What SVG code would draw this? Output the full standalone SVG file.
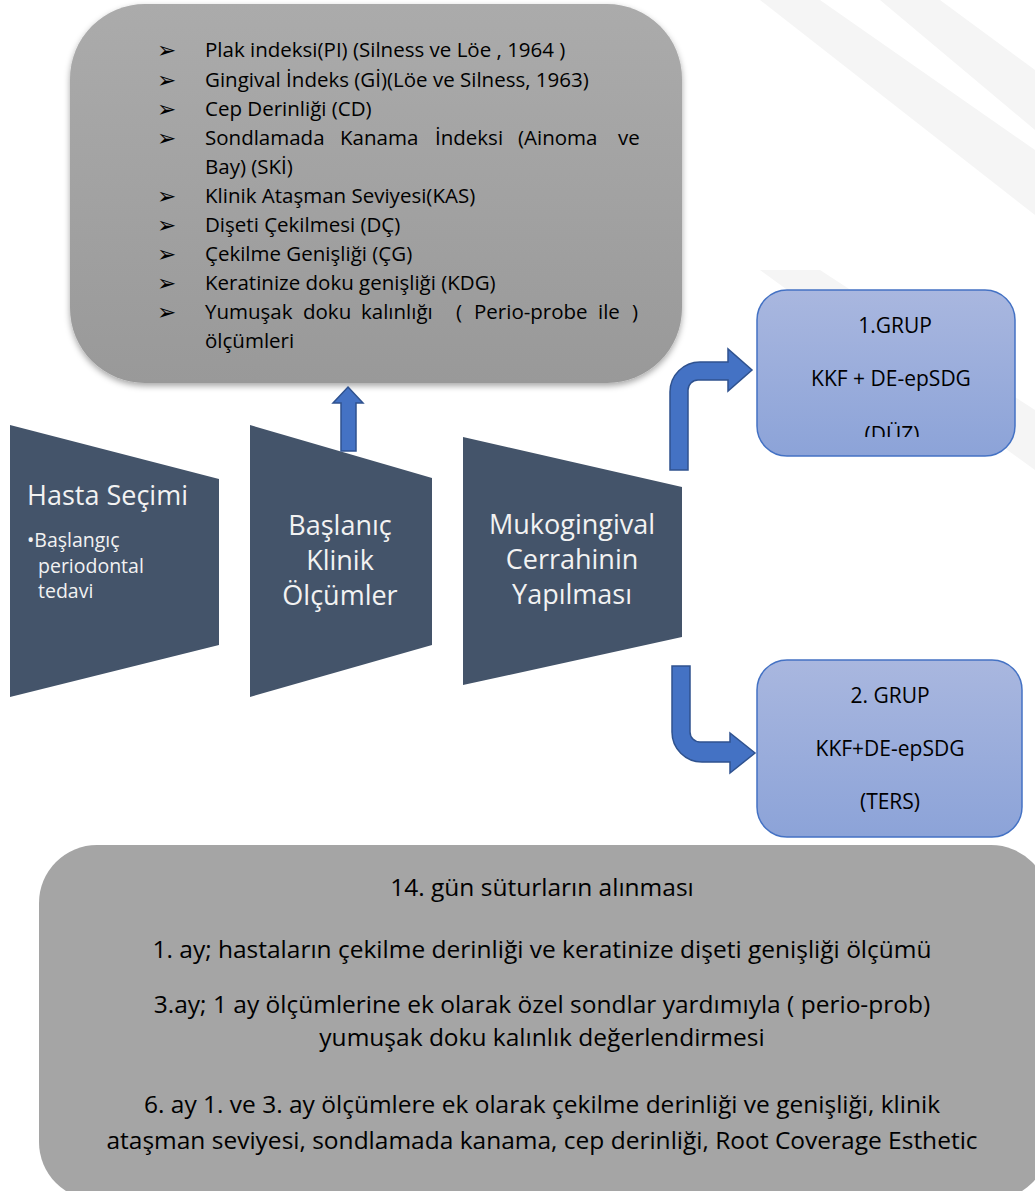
<svg xmlns="http://www.w3.org/2000/svg" width="1035" height="1191" viewBox="0 0 1035 1191">
<defs>
<linearGradient id="gGray" x1="0" y1="0" x2="0" y2="1"><stop offset="0" stop-color="#ababab"/><stop offset="1" stop-color="#999999"/></linearGradient>
<linearGradient id="gBlue" x1="0" y1="0" x2="0" y2="1"><stop offset="0" stop-color="#a9b7df"/><stop offset="1" stop-color="#8ca3d8"/></linearGradient>
<filter id="sh" x="-5%" y="-5%" width="110%" height="115%"><feDropShadow dx="0" dy="3" stdDeviation="3" flood-color="#000" flood-opacity="0.35"/></filter>
<clipPath id="clip1"><rect x="757" y="290" width="258" height="147"/></clipPath>
<style>
.lst{font-family:"Open Sans","Liberation Sans",sans-serif;font-size:20.5px;fill:#000}
.bul{font-family:"DejaVu Sans",sans-serif;font-size:23px;fill:#000}
.trap{fill:#44546a}
.tt{font-family:"Open Sans","Liberation Sans",sans-serif;font-size:27px;fill:#f2f2f2}
.ts{font-family:"Open Sans","Liberation Sans",sans-serif;font-size:19.5px;fill:#f2f2f2}
.grp{fill:url(#gBlue);stroke:#4472c4;stroke-width:1.5}
.gt{font-family:"Open Sans","Liberation Sans",sans-serif;font-size:21px;fill:#000;text-anchor:middle}
.bt{font-family:"Open Sans","Liberation Sans",sans-serif;font-size:24.5px;fill:#000;text-anchor:middle}
.arr{fill:#4472c4;stroke:#2f528f;stroke-width:1.5}
</style>
</defs>
<rect width="1035" height="1191" fill="#ffffff"/>
<g id="watermark" fill="#f5f5f5">
<polygon points="760,0 820,0 1035,150 1035,215"/>
<polygon points="880,0 940,0 1035,70 1035,130"/>
<polygon points="760,270 820,270 1035,410 1035,470"/>
</g>
<g id="measures">
<rect x="70" y="4" width="612" height="379" rx="75" fill="url(#gGray)" filter="url(#sh)"/>
<g class="bul">
<text x="157" y="58">➢</text><text x="157" y="88">➢</text><text x="157" y="117">➢</text><text x="157" y="146">➢</text>
<text x="157" y="204">➢</text><text x="157" y="233">➢</text><text x="157" y="262">➢</text><text x="157" y="291">➢</text><text x="157" y="320">➢</text>
</g>
<g class="lst">
<text x="205" y="57">Plak indeksi(PI) (Silness ve Löe , 1964 )</text>
<text x="205" y="87">Gingival İndeks (Gİ)(Löe ve Silness, 1963)</text>
<text x="205" y="116">Cep Derinliği (CD)</text>
<text y="145"><tspan x="205">Sondlamada</tspan><tspan x="340">Kanama</tspan><tspan x="435">İndeksi</tspan><tspan x="518">(Ainoma</tspan><tspan x="618">ve</tspan></text>
<text x="205" y="174">Bay) (SKİ)</text>
<text x="205" y="203">Klinik Ataşman Seviyesi(KAS)</text>
<text x="205" y="232">Dişeti Çekilmesi (DÇ)</text>
<text x="205" y="261">Çekilme Genişliği (ÇG)</text>
<text x="205" y="290">Keratinize doku genişliği (KDG)</text>
<text y="319"><tspan x="205">Yumuşak</tspan><tspan x="303">doku</tspan><tspan x="361">kalınlığı</tspan><tspan x="456">(</tspan><tspan x="474">Perio-probe</tspan><tspan x="598">ile</tspan><tspan x="632">)</tspan></text>
<text x="205" y="348">ölçümleri</text>
</g>
</g>
<g id="hasta">
<polygon class="trap" points="10,425 219,479 219,645 10,697"/>
<text class="tt" x="27" y="505">Hasta Seçimi</text>
<text class="ts" x="27" y="547">•Başlangıç</text>
<text class="ts" x="38" y="573">periodontal</text>
<text class="ts" x="38" y="598">tedavi</text>
</g>
<g id="baslangic">
<polygon class="trap" points="250,425 432,478 432,645 250,697"/>
<text class="tt" x="340" y="535" text-anchor="middle">Başlanıç</text>
<text class="tt" x="340" y="570" text-anchor="middle">Klinik</text>
<text class="tt" x="340" y="605" text-anchor="middle">Ölçümler</text>
</g>
<g id="cerrahi">
<polygon class="trap" points="463,437 682,487 682,637 463,685"/>
<text class="tt" x="572" y="534" text-anchor="middle">Mukogingival</text>
<text class="tt" x="572" y="569" text-anchor="middle">Cerrahinin</text>
<text class="tt" x="572" y="604" text-anchor="middle">Yapılması</text>
</g>
<g id="grup1">
<rect class="grp" x="757" y="290" width="258" height="166" rx="30"/>
<g clip-path="url(#clip1)">
<text class="gt" x="895" y="333">1.GRUP</text>
<text class="gt" x="891" y="386">KKF + DE-epSDG</text>
<text class="gt" x="892" y="442">(DÜZ)</text>
</g>
</g>
<g id="grup2">
<rect class="grp" x="757" y="660" width="265" height="177" rx="30"/>
<text class="gt" x="890" y="703">2. GRUP</text>
<text class="gt" x="890" y="756">KKF+DE-epSDG</text>
<text class="gt" x="890" y="809">(TERS)</text>
</g>
<g id="connectors">
<path class="arr" d="M348,387 L363,403 H356 V451 H341 V403 H333 Z"/>
<path class="arr" d="M670,470 V392 A30,30 0 0 1 700,362 H728 V349 L752,370 L728,391 V380 H698 A10,10 0 0 0 688,390 V470 Z"/>
<path class="arr" d="M672,666 H690 V732 A10,10 0 0 0 700,742 H730 V733 L755,753 L730,773 V762 H702 A30,30 0 0 1 672,732 Z"/>
</g>
<g id="followup">
<rect x="39" y="845" width="1010" height="355" rx="58" fill="#a5a5a5"/>
<text class="bt" x="542" y="896">14. gün süturların alınması</text>
<text class="bt" x="542" y="958">1. ay; hastaların çekilme derinliği ve keratinize dişeti genişliği ölçümü</text>
<text class="bt" x="542" y="1013">3.ay; 1 ay ölçümlerine ek olarak özel sondlar yardımıyla ( perio-prob)</text>
<text class="bt" x="542" y="1046">yumuşak doku kalınlık değerlendirmesi</text>
<text class="bt" x="542" y="1113">6. ay 1. ve 3. ay ölçümlere ek olarak çekilme derinliği ve genişliği, klinik</text>
<text class="bt" x="542" y="1149">ataşman seviyesi, sondlamada kanama, cep derinliği,  Root Coverage Esthetic</text>
</g>
</svg>
